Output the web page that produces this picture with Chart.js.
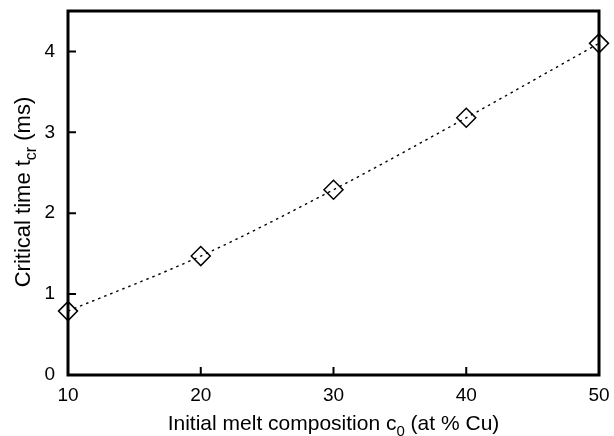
<!DOCTYPE html>
<html>
<head>
<meta charset="utf-8">
<script src="https://cdn.jsdelivr.net/npm/chart.js@4/dist/chart.umd.min.js"></script>
<style>
  html, body { margin: 0; padding: 0; background: #fff; }
  #wrap { width: 614px; height: 436px; }
</style>
</head>
<body>
<div id="wrap"><canvas id="grafico" width="614" height="436"></canvas></div>
<script>
// dados
const composicoes = [10, 20, 30, 40, 50];
const temposCriticos = [0.79, 1.47, 2.29, 3.18, 4.10];
const ticksX = [10, 20, 30, 40, 50];
const ticksY = [0, 1, 2, 3, 4];

const fonte = "'Liberation Sans', Arial, Helvetica, sans-serif";

// escreve um texto com trechos em subscrito
function textoComSub(ctx, partes, x, y, tam) {
  const medir = (p) => {
    ctx.font = (p.sub ? Math.round(tam * 0.72) : tam) + "px " + fonte;
    return ctx.measureText(p.t).width;
  };
  const total = partes.reduce((s, p) => s + medir(p), 0);
  let cx = x - total / 2;
  partes.forEach((p) => {
    const w = medir(p);
    ctx.fillText(p.t, cx, p.sub ? y + tam * 0.28 : y);
    cx += w;
  });
}

const molduraPlugin = {
  id: "moldura",
  afterDraw(chart) {
    const { ctx, chartArea: a, scales } = chart;
    ctx.save();
    ctx.strokeStyle = "#000";
    ctx.lineWidth = 3;
    ctx.strokeRect(a.left, a.top, a.right - a.left, a.bottom - a.top);

    // ticks para dentro
    ctx.lineWidth = 2;
    ctx.beginPath();
    ticksX.forEach((v) => {
      const px = scales.x.getPixelForValue(v);
      ctx.moveTo(px, a.bottom);
      ctx.lineTo(px, a.bottom - 8);
    });
    ticksY.forEach((v) => {
      const py = scales.y.getPixelForValue(v);
      ctx.moveTo(a.left, py);
      ctx.lineTo(a.left + 8, py);
    });
    ctx.stroke();

    // titulos dos eixos
    ctx.fillStyle = "#000";
    ctx.textBaseline = "alphabetic";
    ctx.textAlign = "left";
    textoComSub(ctx, [
      { t: "Initial melt composition c" }, { t: "0", sub: true }, { t: " (at % Cu)" }
    ], (a.left + a.right) / 2, 430, 21);

    ctx.translate(30, (a.top + a.bottom) / 2 - 1);
    ctx.rotate(-Math.PI / 2);
    textoComSub(ctx, [
      { t: "Critical time t" }, { t: "cr", sub: true }, { t: " (ms)" }
    ], 0, 0, 22);
    ctx.restore();
  }
};

const ctx = document.getElementById("grafico");

new Chart(ctx, {
  type: "line",
  data: {
    labels: composicoes,
    datasets: [{
      data: composicoes.map((c, i) => ({ x: c, y: temposCriticos[i] })),
      borderColor: "#000",
      borderWidth: 1.4,
      borderDash: [2.5, 4],
      cubicInterpolationMode: "monotone",
      pointStyle: "rectRot",
      pointRadius: 9.5,
      pointBorderWidth: 1.5,
      pointBorderColor: "#000",
      pointBackgroundColor: "rgba(0,0,0,0)",
      clip: false
    }]
  },
  options: {
    responsive: false,
    animation: false,
    layout: { padding: { top: 10, right: 15, left: 0, bottom: 0 } },
    plugins: {
      legend: { display: false },
      tooltip: { enabled: false }
    },
    scales: {
      x: {
        type: "linear",
        min: 10,
        max: 50,
        afterBuildTicks: (s) => { s.ticks = ticksX.map((v) => ({ value: v })); },
        afterFit: (s) => {
          s.height = 61;
          s.paddingLeft = 0; s.paddingRight = 0;
        },
        grid: { display: false, drawTicks: false },
        border: { display: false },
        ticks: {
          padding: 9,
          color: "#000",
          font: { family: fonte, size: 19 }
        }
      },
      y: {
        min: 0,
        max: 4.5,
        afterBuildTicks: (s) => { s.ticks = ticksY.map((v) => ({ value: v })); },
        afterFit: (s) => {
          s.width = 68;
          s.paddingTop = 0; s.paddingBottom = 0;
        },
        grid: { display: false, drawTicks: false },
        border: { display: false },
        ticks: {
          padding: 13,
          color: "#000",
          font: { family: fonte, size: 19 }
        }
      }
    }
  },
  plugins: [molduraPlugin]
});
</script>
</body>
</html>
